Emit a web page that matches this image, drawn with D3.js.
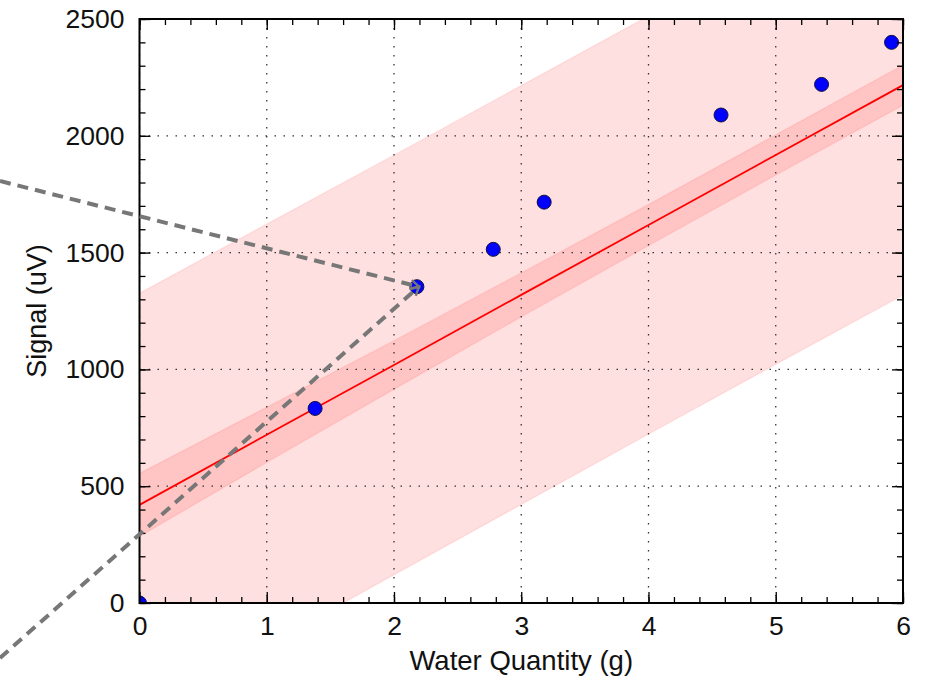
<!DOCTYPE html>
<html>
<head>
<meta charset="utf-8">
<script src="https://cdn.jsdelivr.net/npm/d3@7"></script>
<style>
body { margin:0; background:#fff; }
text { font-family: "Liberation Sans", Arial, sans-serif; }
</style>
</head>
<body>
<svg id="graph"></svg>
<script>
// measured points
var waterX = [0, 1.38, 2.18, 2.78, 3.18, 4.57, 5.36, 5.91];
var signalY = [0, 833, 1354, 1514, 1716, 2089, 2220, 2400];

var fitX = [0, 1, 2, 3, 4, 5, 6];
var fitY = [420, 720, 1019, 1319, 1618, 1918, 2217];
var confHi = [555, 838, 1123, 1413, 1706, 2004, 2303];
var confLo = [285, 602, 915, 1225, 1530, 1832, 2131];
var predHi = [1326, 1622, 1917, 2215, 2513, 2813, 3120];
var predLo = [-486, -182, 121, 422, 723, 1022, 1318];

var xTicks = [0, 1, 2, 3, 4, 5, 6];
var yTicks = [0, 500, 1000, 1500, 2000, 2500];

var screen = {width:929, height:682};
var plot = {left:139.5, right:903, top:19, bottom:603};

var svg = d3.select("#graph")
	.attr("width", screen.width)
	.attr("height", screen.height);

var xScale = d3.scaleLinear().domain([0, 6]).range([plot.left, plot.right]);
var yScale = d3.scaleLinear().domain([0, 2500]).range([plot.bottom, plot.top]);

svg.append("clipPath").attr("id", "clip")
	.append("rect")
	.attr("x", plot.left).attr("y", plot.top)
	.attr("width", plot.right - plot.left)
	.attr("height", plot.bottom - plot.top);

var inner = svg.append("g").attr("clip-path", "url(#clip)");

var bandArea = function(lo, hi)
{
	return d3.area()
		.x(function(d, i) { return xScale(fitX[i]); })
		.y0(function(d, i) { return yScale(lo[i]); })
		.y1(function(d, i) { return yScale(hi[i]); });
};

inner.append("path")
	.attr("d", bandArea(predLo, predHi)(fitX))
	.attr("fill", "rgba(255,0,0,0.12)")
	.attr("stroke", "rgba(255,0,0,0.08)")
	.attr("stroke-width", 1.5);

inner.append("path")
	.attr("d", bandArea(confLo, confHi)(fitX))
	.attr("fill", "rgba(255,0,0,0.12)")
	.attr("stroke", "rgba(255,0,0,0.08)")
	.attr("stroke-width", 1.5);

// dotted grid
inner.selectAll(".vgrid").data(xTicks).enter().append("line")
	.attr("x1", function(d) { return xScale(d); })
	.attr("x2", function(d) { return xScale(d); })
	.attr("y1", plot.top).attr("y2", plot.bottom)
	.attr("stroke", "#333").attr("stroke-width", 1.3)
	.attr("stroke-dasharray", "1.5,7.5");
inner.selectAll(".hgrid").data(yTicks).enter().append("line")
	.attr("y1", function(d) { return yScale(d); })
	.attr("y2", function(d) { return yScale(d); })
	.attr("x1", plot.left).attr("x2", plot.right)
	.attr("stroke", "#333").attr("stroke-width", 1.3)
	.attr("stroke-dasharray", "1.5,7.5");

var line = d3.line()
	.x(function(d, i) { return xScale(fitX[i]); })
	.y(function(d, i) { return yScale(fitY[i]); });
inner.append("path")
	.attr("d", line(fitX))
	.attr("fill", "none")
	.attr("stroke", "#ff0000")
	.attr("stroke-width", 1.8);

inner.selectAll("circle").data(waterX).enter().append("circle")
	.attr("cx", function(d) { return xScale(d); })
	.attr("cy", function(d, i) { return yScale(signalY[i]); })
	.attr("r", 7)
	.attr("fill", "#0000ff")
	.attr("stroke", "#101040")
	.attr("stroke-width", 1);

// axes, ticks pointing inward, mirrored on top and right
var minorX = d3.range(0, 31).map(function(i) { return i / 5; });
var minorY = d3.range(0, 26).map(function(i) { return i * 100; });

var noLabel = function() { return ""; };

var addAxis = function(axis, tx, ty)
{
	var g = svg.append("g").attr("transform", "translate(" + tx + "," + ty + ")").call(axis);
	g.select(".domain").remove();
	g.selectAll(".tick line").attr("stroke", "#000").attr("stroke-width", 1.3);
	g.selectAll("text").attr("font-size", 26.5).attr("fill", "#111")
		.attr("font-family", "'Liberation Sans', Arial, sans-serif");
	return g;
};

addAxis(d3.axisBottom(xScale).tickValues(minorX).tickSize(-6).tickFormat(noLabel), 0, plot.bottom);
addAxis(d3.axisTop(xScale).tickValues(minorX).tickSize(-6).tickFormat(noLabel), 0, plot.top);
addAxis(d3.axisLeft(yScale).tickValues(minorY).tickSize(-6).tickFormat(noLabel), plot.left, 0);
addAxis(d3.axisRight(yScale).tickValues(minorY).tickSize(-6).tickFormat(noLabel), plot.right, 0);

var xb = addAxis(d3.axisBottom(xScale).tickValues(xTicks).tickSize(-11).tickPadding(32).tickFormat(d3.format("d")), 0, plot.bottom);
xb.selectAll("text").attr("dy", "0");
addAxis(d3.axisTop(xScale).tickValues(xTicks).tickSize(-11).tickFormat(noLabel), 0, plot.top);
addAxis(d3.axisLeft(yScale).tickValues(yTicks).tickSize(-11).tickPadding(15).tickFormat(d3.format("d")), plot.left, 0);
addAxis(d3.axisRight(yScale).tickValues(yTicks).tickSize(-11).tickFormat(noLabel), plot.right, 0);

svg.append("rect")
	.attr("x", plot.left).attr("y", plot.top)
	.attr("width", plot.right - plot.left)
	.attr("height", plot.bottom - plot.top)
	.attr("fill", "none")
	.attr("stroke", "#000")
	.attr("stroke-width", 2);

svg.append("text")
	.attr("x", (plot.left + plot.right) / 2)
	.attr("y", 670)
	.attr("text-anchor", "middle")
	.attr("font-size", 27.5)
	.attr("fill", "#111")
	.text("Water Quantity (g)");

svg.append("text")
	.attr("transform", "translate(46," + ((plot.top + plot.bottom) / 2) + ") rotate(-90)")
	.attr("text-anchor", "middle")
	.attr("font-size", 27)
	.attr("fill", "#111")
	.text("Signal (uV)");

// gray dashed pointer lines
svg.append("defs").append("marker")
	.attr("id", "tip")
	.attr("viewBox", "0 0 10 10")
	.attr("refX", 8).attr("refY", 5)
	.attr("markerWidth", 3).attr("markerHeight", 3)
	.attr("orient", "auto")
	.append("path")
	.attr("d", "M1,1 L8,5 L1,9")
	.attr("fill", "none")
	.attr("stroke", "#777")
	.attr("stroke-width", 2);

var pointer = [[0, 181], [0, 658]];
pointer.forEach(function(p)
{
	svg.append("line")
		.attr("x1", p[0]).attr("y1", p[1])
		.attr("x2", xScale(waterX[2]) + 2).attr("y2", yScale(signalY[2]))
		.attr("stroke", "#777")
		.attr("stroke-width", 4)
		.attr("stroke-dasharray", "11,7")
		.attr("marker-end", "url(#tip)");
});
</script>
</body>
</html>
